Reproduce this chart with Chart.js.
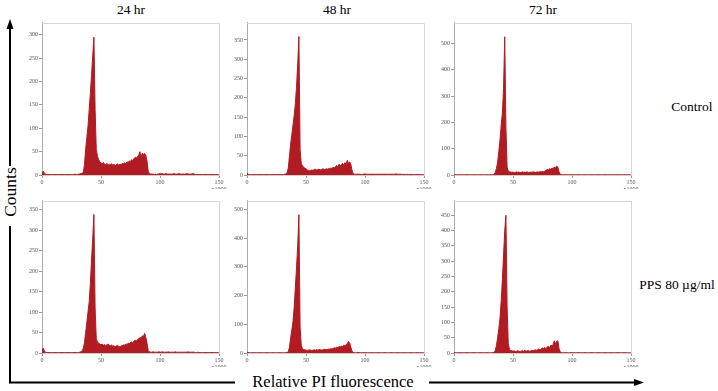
<!DOCTYPE html>
<html>
<head>
<meta charset="utf-8">
<script src="https://cdn.jsdelivr.net/npm/chart.js@4.4.0/dist/chart.umd.min.js"></script>
<style>
  body { margin: 0; background: #fff; width: 718px; height: 391px; position: relative; overflow: hidden;
         font-family: "Liberation Serif", "Times New Roman", serif; }
  canvas { position: absolute; }
  .lbl { position: absolute; white-space: nowrap; color: #000; transform: translate(-50%, -50%); }
  svg { position: absolute; left: 0; top: 0; }
</style>
</head>
<body>
<svg width="718" height="391">
  <line x1="10" y1="27" x2="10" y2="166" stroke="#000" stroke-width="2"/>
  <line x1="10" y1="226" x2="10" y2="383" stroke="#000" stroke-width="2"/>
  <polygon points="10,19 6.5,29 13.5,29" fill="#000"/>
  <line x1="9" y1="382.5" x2="235" y2="382.5" stroke="#000" stroke-width="2"/>
  <line x1="429" y1="382.5" x2="636" y2="382.5" stroke="#000" stroke-width="2"/>
  <polygon points="644,382.5 634,379 634,386" fill="#000"/>
</svg>

<div class="lbl" style="left:131px;top:10px;font-size:13.5px">24 hr</div>
<div class="lbl" style="left:337px;top:10px;font-size:13.5px">48 hr</div>
<div class="lbl" style="left:543px;top:10px;font-size:13.5px">72 hr</div>
<div class="lbl" style="left:692px;top:107px;font-size:13.5px">Control</div>
<div class="lbl" style="left:677px;top:285px;font-size:13.5px">PPS 80 µg/ml</div>
<div class="lbl" style="left:10px;top:192px;font-size:17.5px;transform:translate(-50%,-50%) rotate(-90deg)">Counts</div>
<div class="lbl" style="left:333px;top:382px;font-size:16.5px">Relative PI fluorescence</div>

<canvas id="c1" width="211" height="171" style="left:18px;top:18px"></canvas>
<canvas id="c2" width="211" height="171" style="left:223px;top:18px"></canvas>
<canvas id="c3" width="211" height="171" style="left:430px;top:18px"></canvas>
<canvas id="c4" width="211" height="171" style="left:18px;top:196px"></canvas>
<canvas id="c5" width="211" height="171" style="left:223px;top:196px"></canvas>
<canvas id="c6" width="211" height="171" style="left:430px;top:196px"></canvas>

<script>
// 横轴刻度
const xTickValues = [0, 50, 100, 150];

// 纵轴刻度（每个面板）
const yTicks24c = [0, 50, 100, 150, 200, 250, 300];
const yTicks48c = [0, 50, 100, 150, 200, 250, 300, 350];
const yTicks72c = [0, 100, 200, 300, 400, 500];
const yTicks24p = [0, 50, 100, 150, 200, 250, 300, 350];
const yTicks48p = [0, 100, 200, 300, 400, 500];
const yTicks72p = [0, 50, 100, 150, 200, 250, 300, 350, 400, 450];

// 纵轴上限
const yMax = [326, 395, 580, 372, 531, 498];

// 每个直方图的计数（通道 0..150，x1000）
const ctrl24 = [
  3, 8, 4, 2, 1, 1, 1, 1, 1, 1,
  1, 1, 1, 1, 1, 1, 1, 1, 1, 1,
  1, 1, 1, 1, 1, 1, 1, 1, 2, 1,
  1, 2, 2, 3, 4, 5, 22, 55, 80, 105,
  140, 175, 215, 255, 295, 140, 55, 40, 33, 28,
  26, 24, 27, 23, 22, 25, 21, 23, 22, 24,
  21, 23, 20, 22, 24, 21, 23, 22, 25, 24,
  26, 24, 28, 27, 30, 29, 33, 31, 35, 38,
  36, 40, 42, 50, 38, 47, 44, 46, 42, 30,
  8, 3, 2, 2, 2, 1, 2, 1, 2, 2,
  3, 2, 3, 2, 2, 3, 2, 2, 2, 2,
  2, 2, 3, 2, 2, 2, 3, 2, 2, 2,
  2, 2, 2, 3, 2, 2, 2, 2, 3, 2,
  1, 1, 1, 1, 1, 1, 1, 1, 1, 1,
  1, 1, 1, 1, 1, 1, 1, 1, 1, 1, 0
];
const ctrl48 = [
  4, 2, 1, 1, 1, 1, 1, 1, 1, 1,
  1, 1, 1, 1, 1, 1, 1, 1, 1, 1,
  1, 1, 1, 1, 1, 1, 1, 1, 1, 1,
  1, 1, 2, 3, 6, 18, 50, 80, 105, 130,
  155, 185, 230, 290, 359, 65, 30, 24, 20, 18,
  16, 13, 12, 11, 12, 13, 12, 14, 15, 13,
  14, 15, 13, 14, 16, 15, 14, 16, 15, 17,
  16, 18, 17, 20, 19, 22, 25, 20, 28, 24,
  27, 30, 26, 32, 28, 38, 30, 34, 28, 12,
  3, 2, 2, 2, 2, 2, 2, 1, 2, 2,
  3, 2, 2, 2, 2, 2, 2, 2, 2, 2,
  2, 2, 2, 2, 2, 2, 2, 2, 2, 2,
  2, 2, 2, 2, 2, 2, 3, 2, 2, 2,
  2, 2, 1, 2, 1, 1, 2, 1, 1, 1,
  1, 1, 1, 1, 1, 1, 1, 1, 1, 1, 0
];
const ctrl72 = [
  2, 1, 1, 1, 1, 1, 1, 1, 1, 1,
  1, 1, 1, 1, 1, 1, 1, 1, 1, 1,
  1, 1, 1, 1, 1, 1, 1, 1, 1, 1,
  1, 1, 1, 1, 3, 10, 25, 50, 90, 135,
  190, 235, 330, 526, 180, 30, 15, 12, 11, 10,
  11, 9, 10, 12, 10, 11, 9, 10, 12, 10,
  11, 10, 12, 9, 10, 11, 10, 12, 11, 10,
  11, 12, 10, 13, 12, 14, 12, 15, 17, 22,
  20, 24, 22, 26, 25, 30, 28, 34, 30, 12,
  3, 2, 1, 1, 1, 1, 1, 1, 1, 1,
  1, 1, 1, 1, 1, 1, 1, 1, 1, 1,
  1, 1, 1, 1, 1, 1, 1, 1, 1, 1,
  1, 1, 1, 1, 1, 1, 1, 1, 1, 1,
  1, 1, 1, 1, 1, 1, 1, 1, 1, 1,
  1, 1, 1, 1, 1, 1, 1, 1, 1, 1, 0
];
const pps24 = [
  4, 12, 5, 2, 1, 1, 1, 1, 1, 1,
  1, 1, 1, 1, 1, 1, 1, 1, 1, 1,
  1, 1, 1, 1, 1, 1, 1, 1, 1, 1,
  1, 1, 2, 3, 5, 12, 25, 50, 75, 100,
  125, 170, 230, 280, 338, 110, 35, 27, 24, 22,
  20, 22, 19, 21, 18, 20, 22, 19, 17, 20,
  16, 18, 15, 17, 19, 16, 15, 18, 17, 20,
  19, 22, 21, 24, 23, 26, 27, 25, 29, 31,
  30, 33, 35, 38, 36, 42, 40, 48, 38, 24,
  6, 3, 2, 2, 3, 2, 2, 2, 2, 3,
  2, 2, 3, 2, 2, 2, 2, 3, 2, 2,
  2, 2, 2, 3, 2, 2, 2, 2, 2, 2,
  2, 2, 2, 2, 3, 2, 2, 2, 2, 2,
  1, 1, 2, 1, 1, 1, 1, 1, 1, 1,
  1, 1, 1, 1, 1, 1, 1, 1, 1, 1, 0
];
const pps48 = [
  3, 2, 1, 1, 1, 1, 1, 1, 1, 1,
  1, 1, 1, 1, 1, 1, 1, 1, 1, 1,
  1, 1, 1, 1, 1, 1, 1, 1, 1, 1,
  1, 1, 1, 1, 2, 4, 20, 54, 80, 111,
  160, 230, 300, 376, 482, 90, 25, 15, 12, 11,
  10, 9, 10, 11, 10, 9, 10, 11, 10, 12,
  10, 11, 12, 10, 11, 12, 13, 11, 12, 14,
  13, 15, 14, 16, 18, 17, 20, 19, 22, 21,
  24, 23, 27, 25, 30, 32, 40, 35, 20, 6,
  2, 2, 1, 1, 2, 1, 1, 1, 2, 1,
  1, 1, 1, 1, 1, 1, 1, 1, 1, 1,
  1, 1, 1, 1, 1, 1, 1, 1, 1, 1,
  1, 1, 1, 1, 1, 1, 1, 1, 1, 1,
  1, 1, 1, 1, 1, 1, 1, 1, 1, 1,
  1, 1, 1, 1, 1, 1, 1, 1, 1, 1, 0
];
const pps72 = [
  2, 1, 1, 1, 1, 1, 1, 1, 1, 1,
  1, 1, 1, 1, 1, 1, 1, 1, 1, 1,
  1, 1, 1, 1, 1, 1, 1, 1, 1, 1,
  1, 1, 1, 1, 2, 8, 25, 51, 80, 115,
  170, 240, 320, 400, 450, 150, 30, 12, 8, 7,
  6, 7, 5, 6, 7, 6, 5, 6, 8, 6,
  9, 6, 7, 8, 6, 7, 8, 7, 9, 10,
  9, 11, 13, 10, 14, 16, 15, 18, 14, 20,
  22, 18, 25, 24, 28, 40, 30, 38, 40, 15,
  3, 2, 1, 1, 1, 1, 1, 1, 1, 1,
  1, 1, 1, 1, 1, 1, 1, 1, 1, 1,
  1, 1, 1, 1, 1, 1, 1, 1, 1, 1,
  1, 1, 1, 1, 1, 1, 1, 1, 1, 1,
  1, 1, 1, 1, 1, 1, 1, 1, 1, 1,
  1, 1, 1, 1, 1, 1, 1, 1, 1, 1, 0
];

const histColor = '#b01c22';
const tickFont = { size: 6, family: 'Liberation Serif' };

// 上、右边框
const framePlugin = {
    id: 'frame',
    afterDraw(chart) {
        const { ctx, chartArea: a } = chart;
        ctx.save();
        ctx.strokeStyle = '#d6d6d6';
        ctx.lineWidth = 1;
        ctx.beginPath();
        ctx.moveTo(a.left, Math.round(a.top) + 0.5);
        ctx.lineTo(Math.round(a.right) + 0.5, Math.round(a.top) + 0.5);
        ctx.lineTo(Math.round(a.right) + 0.5, a.bottom);
        ctx.stroke();
        ctx.restore();
    }
};

function makeHist(id, counts, max, yTickValues) {
    new Chart(document.getElementById(id), {
        type: 'line',
        data: {
            datasets: [{
                data: counts.map((v, i) => ({ x: i, y: v })),
                borderColor: histColor,
                backgroundColor: histColor,
                borderWidth: 1,
                fill: 'origin',
                pointRadius: 0,
                tension: 0
            }]
        },
        options: {
            responsive: false,
            animation: false,
            layout: { padding: { top: 4, right: 10, left: 0, bottom: 0 } },
            plugins: { legend: { display: false }, tooltip: { enabled: false } },
            scales: {
                x: {
                    type: 'linear', min: 0, max: 150,
                    afterFit: s => { s.height = 14; },
                    afterBuildTicks: s => { s.ticks = xTickValues.map(v => ({ value: v })); },
                    ticks: {
                        maxRotation: 0, autoSkip: false, padding: 1,
                        font: tickFont, color: '#555',
                        callback: v => v === 150 ? ['150', 'x1000'] : String(v)
                    },
                    grid: { drawOnChartArea: false, tickLength: 3, color: '#999' },
                    border: { color: '#ccc' }
                },
                y: {
                    min: 0, max: max,
                    afterFit: s => { s.width = 24; },
                    afterBuildTicks: s => { s.ticks = yTickValues.map(v => ({ value: v })); },
                    ticks: { autoSkip: false, padding: 1, font: tickFont, color: '#555' },
                    grid: { drawOnChartArea: false, tickLength: 3, color: '#999' },
                    border: { color: '#aaa', dash: [1, 1.5] }
                }
            }
        },
        plugins: [framePlugin]
    });
}

makeHist('c1', ctrl24, yMax[0], yTicks24c);
makeHist('c2', ctrl48, yMax[1], yTicks48c);
makeHist('c3', ctrl72, yMax[2], yTicks72c);
makeHist('c4', pps24, yMax[3], yTicks24p);
makeHist('c5', pps48, yMax[4], yTicks48p);
makeHist('c6', pps72, yMax[5], yTicks72p);
</script>
</body>
</html>
